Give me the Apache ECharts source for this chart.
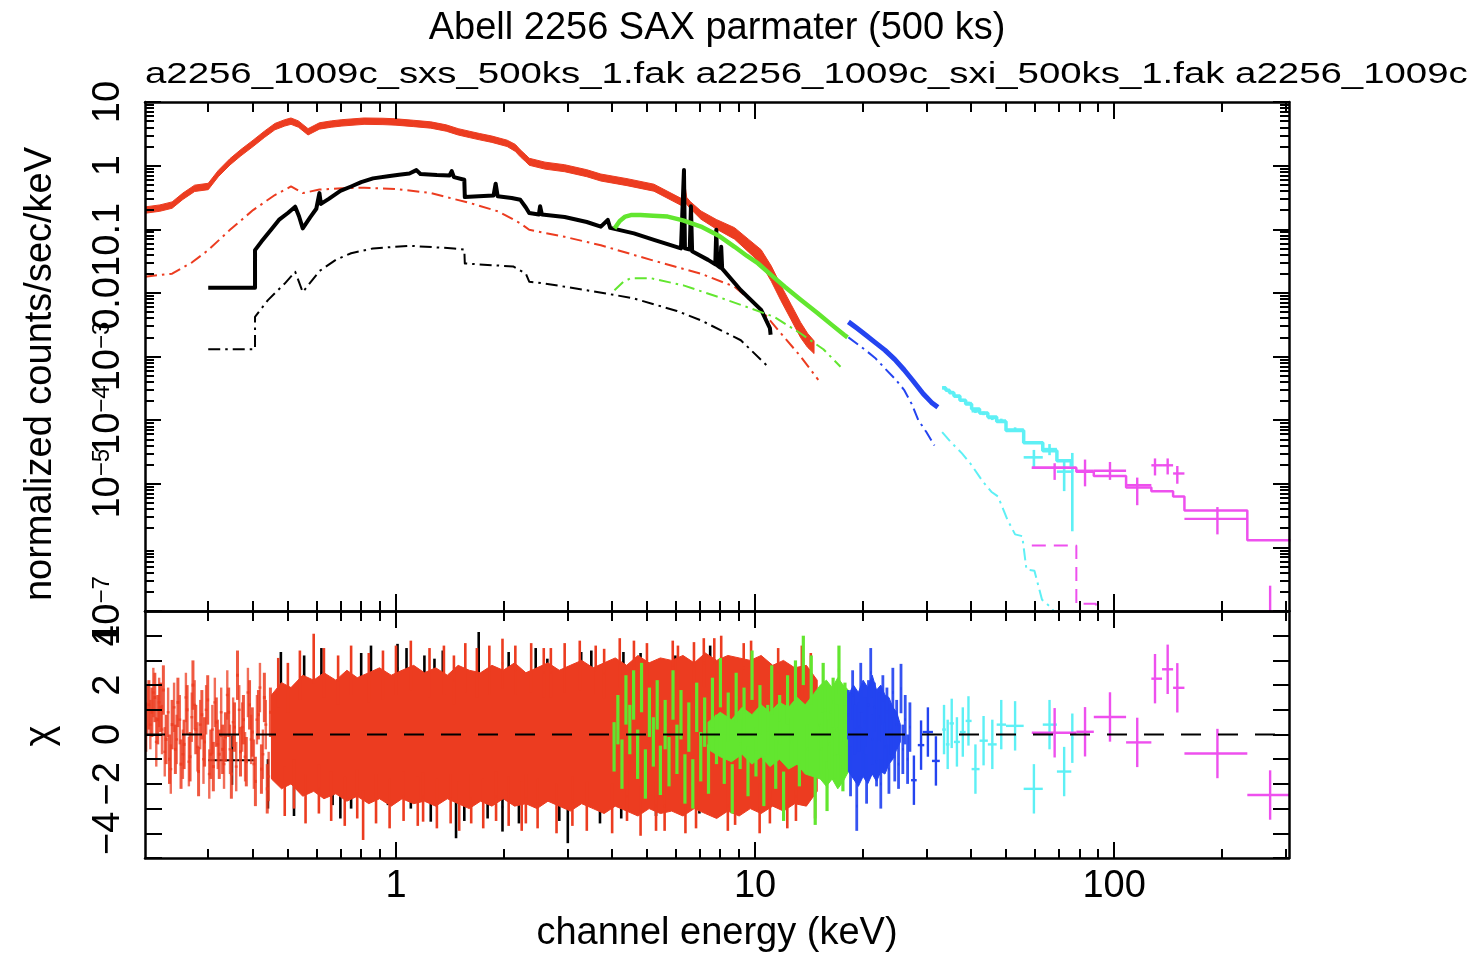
<!DOCTYPE html>
<html><head><meta charset="utf-8">
<script src="https://cdn.jsdelivr.net/npm/echarts@6.0.0/dist/echarts.min.js"></script>
<style>html,body{margin:0;padding:0;background:#fff}#c{width:1477px;height:956px}</style>
</head><body><div id="c"></div>
<script>
// ---------------- axis / tick definitions ----------------
const X_MIN = 0.2, X_MAX = 307;
const xMajorTicks = [1, 10, 100];
const xTickLabels = ['1', '10', '100'];
const xMinorTicks = [0.3,0.4,0.5,0.6,0.7,0.8,0.9,2,3,4,5,6,7,8,9,20,30,40,50,60,70,80,90,200,300];
const yTopDecades = [1e-7,1e-6,1e-5,1e-4,1e-3,0.01,0.1,1,10];
const yTopLabels = ['10^-7','10^-6','10^-5','10^-4','10^-3','0.01','0.1','1','10'];
const yMinorMult = [2,3,4,5,6,7,8,9];
const yResLabelVals = [-4,-2,0,2,4];
const yResLabels = ['\u22124','\u22122','0','2','4'];

// ---------------- top panel: counts spectra ----------------
const redE = [0.2,0.22,0.238,0.255,0.275,0.30,0.32,0.345,0.37,0.40,0.43,0.46,0.49,0.51,0.535,0.569,0.612,0.66,0.707,0.815,0.92,1.0,1.12,1.25,1.38,1.49,1.6,1.71,1.85,2.04,2.15,2.22,2.30,2.35,2.6,2.95,3.4,3.72,4.4,5.23,6.22,6.28,6.35,6.45,6.6,7.07,7.8,8.77,9.6,10.4,11.1,11.8,12.6,13.4,14.0,14.6];
const redV = [0.2,0.215,0.24,0.33,0.44,0.47,0.75,1.15,1.6,2.24,3.1,4.1,4.7,5.0,4.5,3.4,4.2,4.5,4.7,5.0,4.95,4.85,4.6,4.35,3.9,3.4,3.1,2.85,2.6,2.24,1.9,1.56,1.3,1.15,1.0,0.91,0.76,0.65,0.55,0.45,0.27,0.27,0.55,0.28,0.24,0.167,0.12,0.086,0.055,0.037,0.02,0.01,0.005,0.0026,0.0018,0.0014];
const redErrDex = [0.05,0.05,0.05,0.05,0.05,0.05,0.05,0.05,0.05,0.05,0.05,0.05,0.05,0.05,0.05,0.05,0.05,0.05,0.05,0.05,0.05,0.05,0.05,0.05,0.05,0.05,0.05,0.05,0.05,0.05,0.055,0.055,0.055,0.055,0.055,0.055,0.055,0.055,0.055,0.055,0.055,0.055,0.055,0.055,0.055,0.065,0.075,0.09,0.1,0.11,0.12,0.12,0.12,0.12,0.11,0.1];
const redCompE = [0.2,0.238,0.27,0.30,0.345,0.40,0.46,0.51,0.55,0.612,0.707,0.815,1.0,1.25,1.62,1.93,2.22,2.35,2.95,3.72,5.13,7.07,8.77,10.4,11.6,13.4,15.0];
const redCompV = [0.018,0.02,0.03,0.047,0.098,0.2,0.345,0.47,0.37,0.42,0.44,0.45,0.43,0.37,0.255,0.19,0.124,0.098,0.076,0.056,0.033,0.02,0.0125,0.0054,0.0026,0.001,0.00043];
const blackE = [0.30,0.405,0.405,0.422,0.45,0.472,0.50,0.524,0.537,0.55,0.578,0.60,0.612,0.618,0.65,0.70,0.75,0.80,0.863,0.95,1.02,1.09,1.14,1.17,1.3,1.41,1.43,1.45,1.55,1.555,1.7,1.87,1.895,1.92,2.1,2.22,2.30,2.35,2.5,2.52,2.55,2.95,3.4,3.72,3.89,3.95,4.6,5.23,6.22,6.30,6.34,6.38,6.58,6.63,6.68,7.4,7.75,7.8,7.85,8.0,8.05,8.1,9.13,10.4,11.0,11.05];
const blackV = [0.012,0.012,0.047,0.064,0.10,0.14,0.18,0.226,0.16,0.103,0.156,0.21,0.37,0.25,0.30,0.40,0.47,0.55,0.63,0.68,0.72,0.75,0.85,0.74,0.71,0.70,0.82,0.66,0.60,0.32,0.33,0.34,0.52,0.33,0.31,0.29,0.22,0.18,0.17,0.23,0.17,0.156,0.13,0.11,0.14,0.105,0.086,0.068,0.05,0.05,0.85,0.05,0.048,0.23,0.045,0.033,0.028,0.098,0.027,0.025,0.053,0.024,0.011,0.0054,0.0028,0.0022];
const blackCompE = [0.30,0.405,0.405,0.44,0.49,0.524,0.55,0.612,0.68,0.75,0.863,1.09,1.45,1.55,1.555,2.12,2.30,2.35,2.6,3.4,4.55,6.06,7.07,9.13,11.0];
const blackCompV = [0.0013,0.0013,0.0042,0.0077,0.014,0.0215,0.0103,0.022,0.033,0.042,0.05,0.055,0.05,0.048,0.029,0.026,0.02,0.015,0.014,0.011,0.0083,0.0052,0.0037,0.0018,0.00065];
const greenE = [4.06,4.2,4.35,4.51,4.8,5.2,5.71,6.3,7.07,7.9,8.77,9.5,10.2,11.1,12.1,13.4,14.95,16.3,17.7,18.1];
const greenV = [0.103,0.135,0.158,0.167,0.168,0.163,0.158,0.138,0.11,0.08,0.053,0.038,0.029,0.019,0.0125,0.0078,0.0048,0.0032,0.0022,0.002];
const greenCompE = [4.06,4.3,4.51,5.13,6.35,7.87,9.73,11.3,13.4,15.5,17.3];
const greenCompV = [0.011,0.015,0.017,0.017,0.013,0.0087,0.0057,0.0042,0.0023,0.0013,0.00069];
const blueE = [18.2,19.2,20.3,21.5,23.0,24.5,26.0,27.5,29.4,31.0,32.3];
const blueV = [3.5e-3,2.8e-3,2.2e-3,1.7e-3,1.26e-3,9e-4,6.2e-4,4.2e-4,2.6e-4,1.9e-4,1.6e-4];
const blueCompE = [18.2,20.3,21.6,23.0,24.5,26.0,27.3,28.5,30.0,31.6];
const blueCompV = [2.0e-3,1.26e-3,9.5e-4,6.5e-4,4.5e-4,3.0e-4,1.8e-4,1.0e-4,6.5e-5,4.0e-5];
const cyanEdges = [33.2,34.0,34.8,35.8,37.2,38.6,40.1,42.2,44.5,47.1,50.0,56.0,63.3,69.3,76.0,77.0];
const cyanModel = [3.2e-4,2.95e-4,2.7e-4,2.4e-4,2.05e-4,1.8e-4,1.5e-4,1.3e-4,1.12e-4,9.5e-5,6.9e-5,4.4e-5,3.3e-5,2.3e-5,1.8e-5];
const cyanE = [33.6,34.4,35.3,36.5,37.9,39.3,41.1,43.3,45.8,48.5,53.0,59.8,66.1,72.6,76.5];
const cyanV = [3.25e-4,2.9e-4,2.75e-4,2.35e-4,2.05e-4,1.85e-4,1.38e-4,1.28e-4,1.08e-4,9.8e-5,7.1e-5,2.6e-5,3.5e-5,1.55e-5,1.6e-5];
const cyanErr = [1.5e-5,1.4e-5,1.3e-5,1.2e-5,1.1e-5,1.0e-5,9e-6,8.5e-6,8e-6,7.5e-6,6e-6,8e-6,7e-6,8e-6,1.45e-5];
const cyanCompE = [33.2,35.0,37.7,40.0,43.0,45.5,47.5,50.5,53.0,55.5,57.0,60.0,63.0,66.0,69.0];
const cyanCompV = [6.5e-5,4.6e-5,3.0e-5,2.0e-5,1.1e-5,7.5e-6,6.3e-6,2.7e-6,1.6e-6,1.5e-6,4.5e-7,4.3e-7,1.5e-7,1.2e-7,9e-8];
const magEdges = [59,78.5,87.8,108,127,146,157,235,310];
const magModel = [1.78e-5,1.55e-5,1.32e-5,8.7e-6,7.6e-6,6.3e-6,3.8e-6,1.3e-6];
const magE = [68.3,83.0,97.4,116,130,141,150,194,272];
const magV = [1.78e-5,1.6e-5,1.6e-5,9.5e-6,1.95e-5,1.95e-5,1.45e-5,2.8e-6,3e-8];
const magVlo = [1.15e-5,9.1e-6,1.15e-5,4.6e-6,1.35e-5,1.4e-5,1.0e-5,1.6e-6,1e-9];
const magVhi = [2.1e-5,2.4e-5,2.2e-5,1.25e-5,2.5e-5,2.5e-5,1.9e-5,4.3e-6,2.5e-7];
const magLo = [59,78.5,87.8,108,127,136,146,157,235];
const magHi = [78.5,87.8,108,127,136,146,157,235,310];
const magCompE = [59,78.5,78.5,89,89];
const magCompV = [1.07e-6,1.07e-6,1.3e-7,1.3e-7,5e-8];

// ---------------- bottom panel: residuals (chi) ----------------
const redSparseE = [0.201,0.205,0.209,0.213,0.217,0.221,0.225,0.229,0.234,0.238,0.243,0.247,0.252,0.257,0.262,0.267,0.272,0.277,0.282,0.288,0.293,0.299,0.305,0.310,0.316,0.322,0.329,0.335,0.342,0.348,0.355,0.362,0.369,0.376,0.383,0.391,0.398,0.406,0.414,0.422,0.430,0.438,0.447,0.455];
const redSparseChi = [0.3,1.2,0.9,1.5,0.6,1.1,1.8,-0.2,-1.0,0.4,-0.6,1.3,-1.2,-0.4,1.0,-0.9,2.0,0.2,-1.5,0.8,-0.3,1.4,-0.8,-1.3,0.5,-0.8,-0.6,-0.1,0.9,-1.6,0.3,2.4,-0.7,0.6,-1.1,1.2,0.1,-1.9,0.8,-1.4,1.5,-2.2,0.9,-0.5];
const redSparse2E = [0.203,0.207,0.211,0.215,0.219,0.223,0.227,0.232,0.236,0.241,0.245,0.250,0.255,0.260,0.265,0.270,0.275,0.280,0.285,0.291,0.296,0.302,0.308,0.313,0.319,0.326,0.332,0.339,0.345,0.352,0.359,0.366,0.373,0.380,0.387,0.395,0.402,0.410,0.418,0.426,0.434,0.442];
const redSparse2Chi = [1.0,0.4,1.7,-0.3,1.3,0.2,-0.7,0.9,-1.4,1.1,-0.2,0.6,-0.8,1.5,-1.1,0.7,1.2,-0.5,0.4,-1.0,1.0,-1.6,0.2,1.3,-0.4,0.9,-1.2,1.6,-0.6,0.5,-1.3,1.0,0.3,-0.9,1.7,-0.2,-1.2,0.6,1.9,-0.8,0.4,-1.7];
const redBodyE = [0.45,0.48,0.51,0.55,0.59,0.63,0.68,0.73,0.78,0.84,0.90,0.97,1.04,1.12,1.20,1.29,1.39,1.49,1.60,1.72,1.85,1.99,2.14,2.30,2.47,2.65,2.85,3.06,3.29,3.54,3.80,4.08,4.39,4.72,5.07,5.45,5.86,6.30,6.77,7.27,7.82,8.40,9.03,9.70,10.4,11.2,12.0,12.9,13.9,14.9];
const redBodyHi = [1.6,2.1,1.9,2.4,2.2,2.5,2.2,2.6,2.3,2.5,2.7,2.4,2.6,2.8,2.5,2.7,2.4,2.8,2.6,2.5,2.8,2.6,2.9,2.5,2.7,2.9,2.6,2.8,3.0,2.7,2.9,3.1,2.8,3.2,2.9,3.1,3.0,3.2,2.9,3.3,3.0,3.2,3.1,3.0,3.2,2.8,3.0,2.7,2.8,2.2];
const redBodyLo = [-1.8,-2.2,-2.0,-2.5,-2.3,-2.6,-2.4,-2.7,-2.5,-2.8,-2.6,-2.9,-2.6,-2.8,-2.7,-2.9,-2.6,-2.8,-3.0,-2.7,-2.9,-2.6,-2.9,-2.8,-3.0,-2.7,-2.9,-3.1,-2.8,-3.0,-3.2,-2.9,-3.1,-3.3,-3.0,-3.2,-3.1,-3.3,-3.0,-3.2,-3.4,-3.1,-3.3,-3.0,-3.2,-2.9,-3.1,-2.8,-2.9,-2.3];
const redSpikeE = [0.47,0.49,0.50,0.52,0.54,0.56,0.59,0.61,0.63,0.66,0.69,0.72,0.75,0.78,0.81,0.84,0.88,0.92,0.96,1.00,1.05,1.10,1.15,1.19,1.24,1.30,1.36,1.42,1.45,1.50,1.56,1.62,1.68,1.75,1.82,1.90,1.98,2.06,2.15,2.24,2.30,2.38,2.48,2.58,2.70,2.80,2.95,3.10,3.25,3.40,3.60,3.80,4.00,4.20,4.40,4.60,4.80,5.00,5.30,5.60,5.90,6.10,6.40,6.76,6.85,7.20,7.70,8.05,8.40,8.80,9.30,9.75,10.3,11.0,11.6,12.3,13.0,13.5,14.3,14.7];
const redSpikeChi = [2.1,-2.3,1.9,-2.0,2.4,-2.6,3.08,-2.2,2.5,-2.5,2.2,-2.7,2.6,-2.4,-3.27,2.3,-2.6,2.4,-2.8,2.6,-2.5,2.8,-2.7,-2.53,2.5,-2.8,2.6,-2.6,2.2,-2.9,2.7,-2.6,2.5,-2.8,2.6,-2.5,2.88,-2.7,2.6,-2.9,-2.6,2.7,-2.8,2.5,2.5,-3.0,2.7,-2.7,2.8,-2.9,2.6,2.47,-3.0,2.9,-2.5,2.8,-3.1,2.7,-2.9,-2.9,2.8,2.6,-3.0,2.74,-2.8,2.9,2.9,3.0,-2.9,-2.66,2.7,2.8,-3.0,-2.6,2.5,-2.8,-2.5,2.6,2.3,-2.4];
const blackSpikeE = [0.44,0.478,0.52,0.555,0.62,0.666,0.70,0.75,0.80,0.852,0.95,1.01,1.07,1.1,1.2,1.25,1.28,1.35,1.47,1.55,1.70,1.80,1.98,2.06,2.2,2.45,2.64,2.85,3.01,3.28,3.5,3.7,4.24,4.3,4.8,5.3,5.7,6.0,6.35,7.0,7.5,8.5,9.5,10.5];
const blackSpikeChi = [-2.0,2.34,-2.3,2.2,2.5,-1.86,-2.4,-2.0,2.3,2.6,-1.86,2.67,2.5,-2.0,2.2,-2.53,2.07,2.4,-3.2,-2.5,3.15,-2.4,-2.93,2.34,-2.6,2.5,2.07,-2.5,-3.4,2.34,2.4,-2.6,-2.4,2.34,2.3,-2.3,-2.0,2.2,-2.1,-2.2,2.6,2.0,-1.8,1.5];
const blackBinE = [0.35], blackBinChi = [-1.04], blackBinLo = [0.30], blackBinHi = [0.405];
const greenBodyE = [7.4,8.0,8.6,9.2,9.8,10.4,11.0,11.7,12.4,13.1,13.8,14.5,15.2,15.8,16.4,17.0,17.6,18.2];
const greenBodyHi = [0.5,0.9,0.6,1.1,0.8,1.2,0.9,1.3,1.1,1.5,1.2,1.6,2.0,2.2,1.9,2.3,2.0,1.8];
const greenBodyLo = [-0.6,-0.9,-1.1,-0.8,-1.2,-0.9,-1.3,-1.0,-1.4,-1.2,-1.6,-1.7,-1.8,-2.1,-1.8,-2.2,-1.9,-1.5];
const greenResE = [4.05,4.15,4.26,4.37,4.48,4.59,4.71,4.83,4.95,5.08,5.21,5.34,5.45,5.62,5.76,5.91,6.06,6.22,6.38,6.54,6.71,6.88,7.06,7.24,7.42,7.61,7.81,8.01,8.21,8.42,8.64,8.86,9.09,9.32,9.56,9.81,10.06,10.32,10.58,10.85,11.13,11.42,11.71,12.01,12.32,12.64,12.96,13.29,13.63,13.98,14.34,14.71,15.09,15.3,15.48,15.7,15.87,16.1,16.28,16.5,16.7,16.9,17.13,17.35,17.57,17.8,18.02];
const greenResChi = [-0.5,0.6,-1.2,1.4,0.2,1.6,-0.8,1.9,-1.6,0.9,-0.3,1.2,-1.45,0.4,-1.1,1.6,-0.6,0.8,-1.8,0.3,-2.0,1.1,-0.9,0.5,-1.4,1.3,-0.2,2.1,-1.0,0.7,-2.2,1.5,-0.4,0.9,-1.5,2.4,-0.7,1.0,-1.9,0.2,1.8,-1.2,0.6,-2.5,1.4,-0.3,2.0,-1.1,3.0,-0.6,2.2,-2.66,0.4,-0.6,1.9,1.0,-2.1,-0.4,0.9,1.3,-0.8,0.2,2.6,-0.9,-1.3,1.1,0.5];
const blueBodyE = [18.2,18.8,19.4,20.0,20.6,21.2,21.8,22.4,23.0,23.6,24.2,24.8,25.4];
const blueBodyHi = [1.6,2.0,1.7,2.2,1.9,2.4,1.8,2.0,1.6,1.5,1.1,0.9,0.4];
const blueBodyLo = [-1.5,-1.8,-2.1,-1.7,-2.0,-1.6,-1.9,-1.5,-1.6,-1.2,-1.0,-0.6,-0.3];
const blueResE = [18.2,18.45,18.7,18.95,19.2,19.45,19.7,19.95,20.2,20.45,20.7,21.0,21.25,21.5,21.8,22.1,22.4,22.7,23.0,23.3,23.6,23.9,24.2,24.5,24.8,25.1,25.5,25.8,26.2,26.6,27.0];
const blueResChi = [0.8,-1.5,1.6,0.2,-2.9,0.3,1.9,-0.7,0.5,-1.8,1.2,2.5,-0.2,1.1,-1.1,0.7,-2.0,1.4,-0.5,0.9,-1.4,0.2,1.7,-0.9,0.4,-1.2,1.86,-0.6,0.6,-1.0,0.3];
const blueSparseE = [27.7,29.0,30.3,31.9];
const blueSparseChi = [-1.85,-0.43,0.1,-1.07];
const blueSparseLo = [27.2,28.4,29.3,31.1];
const blueSparseHi = [28.2,29.6,31.3,32.7];
const cyanResChi = [0.2,-0.4,0.45,-0.3,0.1,0.55,-1.4,-0.25,-0.4,0.4,0.35,-2.2,0.4,-1.5,-0.15];
const magResChi = [0.07,0.11,0.71,-0.32,2.26,2.64,1.89,-0.77,-2.45];
const zeroLineE = [X_MIN, X_MAX];

// ---------------- styling ----------------
const C = {red:'#ec3c20', black:'#000000', green:'#62e62f', blue:'#2444f0', cyan:'#5ef0f5', mag:'#ee50ee'};
const SANS = '"Liberation Sans", Arial, Helvetica, sans-serif';
const NARROW = '"Liberation Sans Narrow", "Liberation Sans", Arial, sans-serif';
const DASHDOT = [12, 5, 2.5, 5];

// ---------------- helpers ----------------
const pairs = (E, V) => E.map((e, i) => [e, V[i]]);
function stepPairs(edges, vals) {
  const out = [];
  vals.forEach((v, i) => { out.push([edges[i], v]); out.push([edges[i + 1], v]); });
  return out;
}
function lineS(E, V, color, width, dash, xi, yi, z) {
  return {type:'line', xAxisIndex:xi, yAxisIndex:yi, data:pairs(E, V), symbol:'none', showSymbol:false,
    lineStyle:{color, width, type:dash || 'solid', cap:'butt', join:'round'}, silent:true, clip:true, z:z || 2};
}
function stepS(data, color, width, dash, xi, yi) {
  return {type:'line', xAxisIndex:xi, yAxisIndex:yi, data, symbol:'none', showSymbol:false,
    lineStyle:{color, width, type:dash || 'solid'}, silent:true, clip:true, z:2};
}
function crossS(data, color, width, xi, yi, opacity) {
  return {type:'custom', xAxisIndex:xi, yAxisIndex:yi, clip:true, silent:true, data,
    encode:{x:0, y:1},
    renderItem(params, api) {
      const x = api.value(0), y = api.value(1);
      const a = api.coord([x, api.value(4)]), b = api.coord([x, api.value(5)]);
      const c = api.coord([api.value(2), y]), d = api.coord([api.value(3), y]);
      const st = {stroke:color, lineWidth:width, opacity:opacity == null ? 1 : opacity};
      return {type:'group', children:[
        {type:'line', shape:{x1:a[0], y1:a[1], x2:b[0], y2:b[1]}, style:st},
        {type:'line', shape:{x1:c[0], y1:c[1], x2:d[0], y2:d[1]}, style:st}]};
    }, z:2};
}
function resItems(E, chi, hw) {
  const f = Math.pow(10, hw);
  return E.map((e, i) => [e, chi[i], e / f, e * f, chi[i] - 1, chi[i] + 1]);
}
function resItemsEdges(E, chi, lo, hi) {
  return E.map((e, i) => [e, chi[i], lo[i], hi[i], chi[i] - 1, chi[i] + 1]);
}
function bandS(E, lo, hi, color, xi, yi) {
  return {type:'custom', xAxisIndex:xi, yAxisIndex:yi, clip:true, silent:true,
    data:[[E[0], hi[0]]], encode:{x:0, y:1},
    renderItem(params, api) {
      const pts = [];
      for (let i = 0; i < E.length; i++) pts.push(api.coord([E[i], hi[i]]));
      for (let i = E.length - 1; i >= 0; i--) pts.push(api.coord([E[i], lo[i]]));
      return {type:'polygon', shape:{points:pts}, style:{fill:color, stroke:color, lineWidth:1}};
    }, z:2};
}

// ---------------- axes ----------------
const LX_MIN = Math.log10(X_MIN), LX_MAX = Math.log10(X_MAX);
const lg = v => Math.log10(v);
const yMinorTicks = [];
yTopDecades.slice(0, -1).forEach(d => yMinorMult.forEach(m => yMinorTicks.push(lg(d * m))));
const AX = {color:'#000', width:2.5};
function xDisp(grid, position, ticks, len, line, labels) {
  return {type:'value', gridIndex:grid, position, min:LX_MIN, max:LX_MAX, z:10, silent:true,
    axisLine:{show:line, onZero:false, lineStyle:AX},
    axisTick:{show:true, inside:true, length:len, customValues:ticks, lineStyle:{color:'#000', width:2}},
    axisLabel: labels ? {show:true, customValues:xMajorTicks.map(lg), color:'#000', fontSize:38, fontFamily:SANS, margin:10,
      showMinLabel:true, showMaxLabel:true,
      formatter: v => { const i = xMajorTicks.findIndex(t => Math.abs(lg(t) - v) < 1e-6); return i < 0 ? '' : xTickLabels[i]; }}
      : {show:false},
    splitLine:{show:false}};
}
const RICH = {
  b:{fontSize:38, fontFamily:NARROW, color:'#000', lineHeight:38},
  s:{fontSize:24, fontFamily:NARROW, color:'#000', verticalAlign:'top', lineHeight:24}
};
function topLabel(v) {
  const i = yTopDecades.findIndex(d => Math.abs(lg(d) - v) < 1e-6);
  if (i < 0) return '';
  const s = yTopLabels[i];
  if (s.indexOf('10^') === 0) return '{b|10}{s|' + s.slice(3).replace('-', '\u2212') + '}';
  return '{b|' + s + '}';
}
function yDisp(grid, position, ticks, len, line, labels) {
  return {type:'value', gridIndex:grid, position, min:-7, max:1, z:10, silent:true,
    axisLine:{show:line, onZero:false, lineStyle:AX},
    axisTick:{show:true, inside:true, length:len, customValues:ticks, lineStyle:{color:'#000', width:2}},
    axisLabel: labels ? {show:true, customValues:yTopDecades.map(lg), rotate:90, margin:17, formatter:topLabel, rich:RICH,
      showMinLabel:true, showMaxLabel:true} : {show:false},
    splitLine:{show:false}};
}
const xAxes = [
  {type:'log', gridIndex:0, min:X_MIN, max:X_MAX, show:false},
  {type:'log', gridIndex:1, min:X_MIN, max:X_MAX, show:false},
  xDisp(0, 'bottom', xMajorTicks.map(lg), 17, true, false),
  xDisp(0, 'bottom', xMinorTicks.map(lg), 10, false, false),
  xDisp(0, 'top', xMajorTicks.map(lg), 17, true, false),
  xDisp(0, 'top', xMinorTicks.map(lg), 10, false, false),
  xDisp(1, 'bottom', xMajorTicks.map(lg), 16, true, true),
  xDisp(1, 'bottom', xMinorTicks.map(lg), 9, false, false),
  xDisp(1, 'top', xMajorTicks.map(lg), 17, true, false),
  xDisp(1, 'top', xMinorTicks.map(lg), 10, false, false)
];
const yAxes = [
  {type:'log', gridIndex:0, min:1e-7, max:10, show:false},
  {type:'value', gridIndex:1, min:-5, max:5, interval:1, position:'left', z:10, silent:true,
    axisLine:{show:true, onZero:false, lineStyle:AX},
    axisTick:{show:true, inside:true, length:17, lineStyle:{color:'#000', width:2}},
    axisLabel:{show:true, rotate:90, margin:17, rich:RICH, showMinLabel:true, showMaxLabel:true,
      formatter: v => { const i = yResLabelVals.indexOf(Math.round(v)); return (i < 0 || Math.abs(v - Math.round(v)) > 1e-6) ? '' : '{b|' + yResLabels[i] + '}'; }},
    splitLine:{show:false}},
  yDisp(0, 'left', yTopDecades.map(lg), 16, true, true),
  yDisp(0, 'left', yMinorTicks, 9, false, false),
  yDisp(0, 'right', yTopDecades.map(lg), 16, true, false),
  yDisp(0, 'right', yMinorTicks, 9, false, false),
  {type:'value', gridIndex:1, min:-5, max:5, interval:1, position:'right', z:10, silent:true,
    axisLine:{show:true, onZero:false, lineStyle:AX},
    axisTick:{show:true, inside:true, length:16, lineStyle:{color:'#000', width:2}},
    axisLabel:{show:false}, splitLine:{show:false}}
];

// ---------------- series ----------------
const redLo = redV.map((v, i) => v / Math.pow(10, redErrDex[i]));
const redHi = redV.map((v, i) => v * Math.pow(10, redErrDex[i]));
const series = [
  bandS(redE, redLo, redHi, C.red, 0, 0),
  lineS(redCompE, redCompV, C.red, 2, DASHDOT, 0, 0),
  lineS(blackE, blackV, C.black, 4, 'solid', 0, 0),
  lineS(blackCompE, blackCompV, C.black, 2, DASHDOT, 0, 0),
  lineS(greenE, greenV, C.green, 4.5, 'solid', 0, 0),
  lineS(greenCompE, greenCompV, C.green, 2, DASHDOT, 0, 0),
  lineS(blueE, blueV, C.blue, 5, 'solid', 0, 0),
  lineS(blueCompE, blueCompV, C.blue, 2, DASHDOT, 0, 0),
  stepS(stepPairs(cyanEdges, cyanModel), C.cyan, 3.5, 'solid', 0, 0),
  crossS(cyanE.map((e, i) => [e, cyanV[i], cyanEdges[i], cyanEdges[i + 1], cyanV[i] - cyanErr[i] * 0.98, cyanV[i] + cyanErr[i]]), C.cyan, 2.6, 0, 0),
  stepS(pairs(cyanCompE, cyanCompV), C.cyan, 2, DASHDOT, 0, 0),
  stepS(stepPairs(magEdges, magModel), C.mag, 2.5, 'solid', 0, 0),
  crossS(magE.map((e, i) => [e, magV[i], magLo[i], magHi[i], magVlo[i], magVhi[i]]), C.mag, 2.4, 0, 0),
  stepS(pairs(magCompE, magCompV), C.mag, 2, [14, 8], 0, 0),
  // residual panel
  crossS(resItems(blackSpikeE, blackSpikeChi, 0.002), C.black, 2.6, 1, 1),
  crossS(resItemsEdges(blackBinE, blackBinChi, blackBinLo, blackBinHi), C.black, 2, 1, 1),
  crossS(resItems(redSparseE, redSparseChi, 0.004), C.red, 3, 1, 1, 0.85),
  crossS(resItems(redSparse2E, redSparse2Chi, 0.004), C.red, 2.4, 1, 1, 0.75),
  bandS(redBodyE, redBodyLo, redBodyHi, C.red, 1, 1),
  crossS(resItems(redSpikeE, redSpikeChi, 0.002), C.red, 2.6, 1, 1),
  bandS(greenBodyE, greenBodyLo, greenBodyHi, C.green, 1, 1),
  crossS(resItems(greenResE, greenResChi, 0.003), C.green, 3.2, 1, 1),
  bandS(blueBodyE, blueBodyLo, blueBodyHi, C.blue, 1, 1),
  crossS(resItems(blueResE, blueResChi, 0.002), C.blue, 2.8, 1, 1, 0.92),
  crossS(resItemsEdges(blueSparseE, blueSparseChi, blueSparseLo, blueSparseHi), C.blue, 2.4, 1, 1),
  crossS(resItemsEdges(cyanE, cyanResChi, cyanEdges.slice(0, -1), cyanEdges.slice(1)), C.cyan, 2.4, 1, 1),
  crossS(resItemsEdges(magE, magResChi, magLo, magHi), C.mag, 2.4, 1, 1),
  Object.assign(lineS(zeroLineE, [0, 0], '#000', 2, [20, 17], 1, 1), {z:5})
];

// ---------------- texts ----------------
const TITLE = 'Abell 2256 SAX parmater (500 ks)';
const SUBTITLE = 'a2256_1009c_sxs_500ks_1.fak a2256_1009c_sxi_500ks_1.fak a2256_1009c';
const YNAME = 'normalized counts/sec/keV';
const RESNAME = '\u03c7';
const XNAME = 'channel energy (keV)';

const chart = echarts.init(document.getElementById('c'), null, {renderer:'canvas', width:1477, height:956});
chart.setOption({
  animation:false,
  backgroundColor:'#ffffff',
  grid:[
    {left:145, top:102, width:1144, height:509, containLabel:false},
    {left:145, top:611, width:1144, height:247, containLabel:false}
  ],
  xAxis:xAxes,
  yAxis:yAxes,
  series,
  graphic:[
    {type:'text', x:717, y:28.5, silent:true, style:{text:TITLE, font:'38px ' + SANS, fill:'#000', textAlign:'center', textVerticalAlign:'middle'}},
    {type:'text', x:145, y:74.5, scaleX:1.279, silent:true, style:{text:SUBTITLE, font:'30px ' + SANS, fill:'#000', textAlign:'left', textVerticalAlign:'middle'}},
    {type:'text', x:41, y:374, rotation:Math.PI / 2, silent:true, style:{text:YNAME, font:'38px ' + SANS, fill:'#000', textAlign:'center', textVerticalAlign:'middle'}},
    {type:'text', x:41, y:736, rotation:Math.PI / 2, silent:true, style:{text:RESNAME, font:'40px ' + SANS, fill:'#000', textAlign:'center', textVerticalAlign:'middle'}},
    {type:'text', x:717, y:934, silent:true, style:{text:XNAME, font:'38px ' + SANS, fill:'#000', textAlign:'center', textVerticalAlign:'middle'}}
  ]
});
</script></body></html>
